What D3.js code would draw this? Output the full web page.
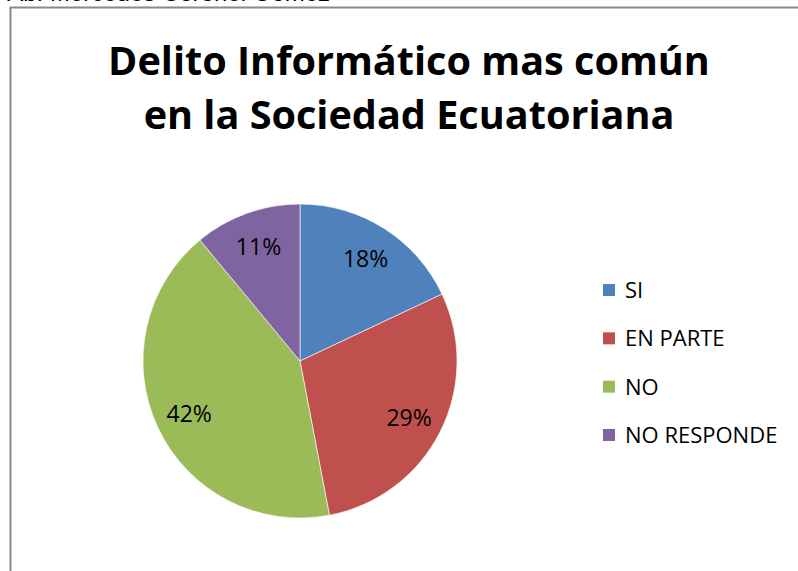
<!DOCTYPE html>
<html>
<head>
<meta charset="utf-8">
<script src="https://cdn.jsdelivr.net/npm/d3@7"></script>
<style>
  body { margin: 0; background: #fff; }
  svg { display: block; }
</style>
</head>
<body>
<div id="chart"></div>
<script>
// data
const categories = ['SI', 'EN PARTE', 'NO', 'NO RESPONDE'];
const values = [18, 29, 42, 11];
const colors = ['#4f81bd', '#c0504d', '#9bbb59', '#8064a2'];
const titleLines = ['Delito Informático mas común', 'en la Sociedad Ecuatoriana'];

let width = 798, height = 571;

let svg = d3.select('#chart').append('svg')
    .attr('width', width)
    .attr('height', height);

// header text of the page above, cut by the crop
svg.append('text')
    .text('Ab. Mercedes Coronel Gómez')
    .attr('x', 330)
    .attr('y', 1)
    .attr('text-anchor', 'end')
    .style('font-family', 'Liberation Sans, Arial, sans-serif')
    .style('font-size', '24px')
    .attr('fill', '#000');

// chart frame
svg.append('rect')
    .attr('x', 10.5)
    .attr('y', 7.5)
    .attr('width', width + 20)
    .attr('height', height + 20)
    .attr('fill', 'none')
    .attr('stroke', '#8a8a8a')
    .attr('stroke-width', 2);

// * TITLE * //
let titleWidths = [602, 526];
let titleY = [75, 129];
let titleSize = null;
titleLines.forEach((t, i) => {
    let txt = svg.append('text')
        .text(t)
        .attr('x', 409)
        .attr('y', titleY[i])
        .attr('text-anchor', 'middle')
        .style('font-family', 'Open Sans, sans-serif')
        .style('font-weight', 'bold')
        .style('font-size', '35px')
        .attr('fill', '#000');
    // fit the first line to the reference width, reuse the size for line 2
    if (titleSize === null) {
        let w = txt.node().getComputedTextLength();
        titleSize = 35 * titleWidths[0] / w;
    }
    txt.style('font-size', titleSize + 'px');
});

// * PIE * //
let cx = 300, cy = 361, r = 157;

let pie = d3.pie()
    .sort(null)
    .value(d => d);

let arcs = pie(values);

let arc = d3.arc()
    .innerRadius(0)
    .outerRadius(r);

let labelArc = d3.arc()
    .innerRadius(r * 0.78)
    .outerRadius(r * 0.78);

let g = svg.append('g')
    .attr('transform', `translate(${cx},${cy})`);

g.selectAll('path')
    .data(arcs)
    .enter()
    .append('path')
    .attr('d', arc)
    .attr('fill', (d, i) => colors[i])
    .attr('stroke', '#fff')
    .attr('stroke-width', 0.6);

g.selectAll('.pie-label')
    .data(arcs)
    .enter()
    .append('text')
    .attr('class', 'pie-label')
    .text(d => d.data + '%')
    .attr('transform', d => `translate(${labelArc.centroid(d)})`)
    .attr('text-anchor', 'middle')
    .attr('dy', '0.4em')
    .style('font-family', 'Open Sans, sans-serif')
    .style('font-size', '23px')
    .attr('fill', '#000');

// * LEGEND * //
let leg = svg.append('g');
let legY = d3.scalePoint()
    .domain(categories)
    .range([290, 435]);

categories.forEach((c, i) => {
    leg.append('rect')
        .attr('x', 603)
        .attr('y', legY(c) - 6)
        .attr('width', 12)
        .attr('height', 12)
        .attr('fill', colors[i]);
    leg.append('text')
        .text(c)
        .attr('x', 625)
        .attr('y', legY(c))
        .attr('dy', '0.36em')
        .style('font-family', 'Open Sans, sans-serif')
        .style('font-size', '22px')
        .attr('fill', '#000');
});
</script>
</body>
</html>
